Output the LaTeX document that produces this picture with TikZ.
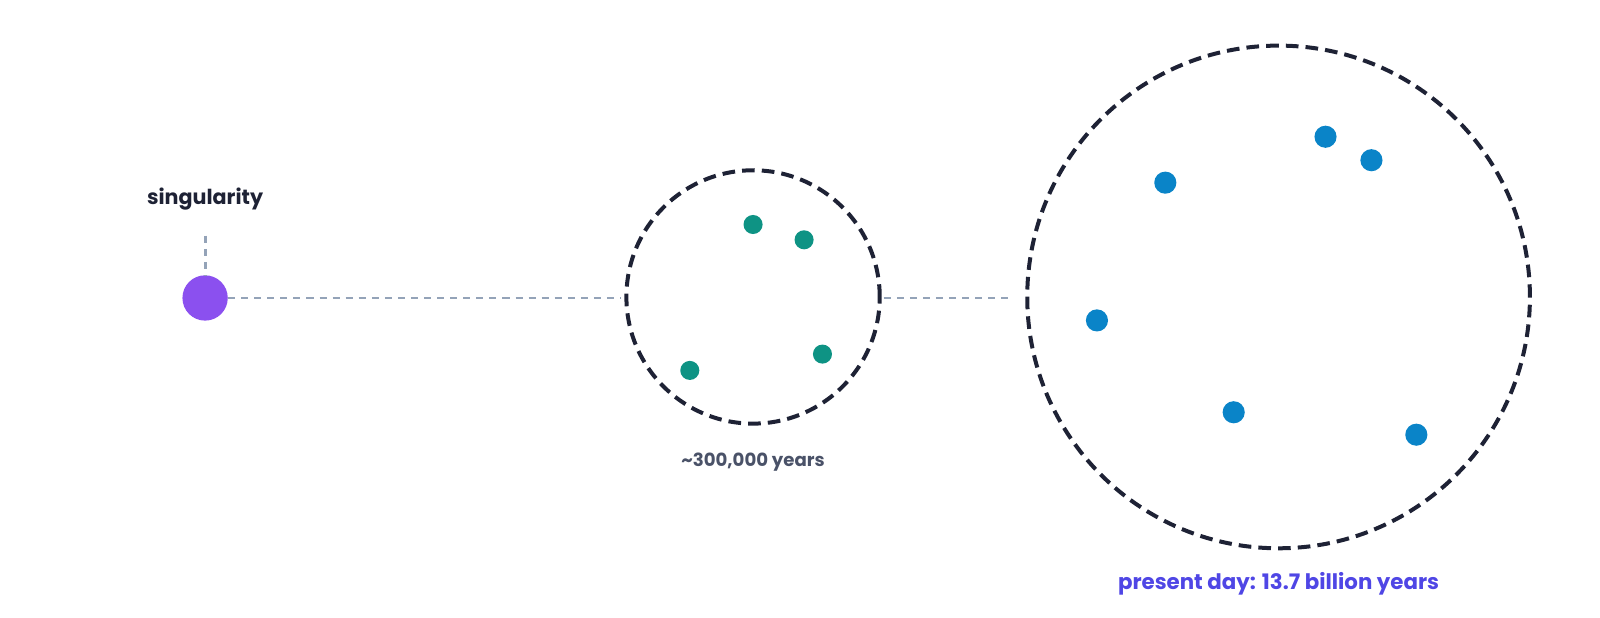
\documentclass[tikz,border=0pt]{standalone}
\usepackage{fontspec}
\setmainfont{Poppins}
\definecolor{navy}{HTML}{1E2235}
\definecolor{lgray}{HTML}{94A3B8}
\definecolor{slate}{HTML}{4A5268}
\definecolor{teal}{HTML}{0E9384}
\definecolor{sky}{HTML}{0A84C8}
\definecolor{indigo}{HTML}{4F46E5}
\definecolor{violet}{HTML}{8B50EF}
\begin{document}
\begin{tikzpicture}[x=0.7653pt,y=-0.7653pt,
  connector/.style={draw=lgray,line width=2.2pt,dash pattern=on 5.3pt off 4.5pt},
  era/.style={circle,draw=navy,line width=3pt,dash pattern=on 9.5pt off 5.3pt,inner sep=0pt},
  tdot/.style={circle,fill=teal,inner sep=0pt,minimum size=14.3pt},
  bdot/.style={circle,fill=sky,inner sep=0pt,minimum size=16.6pt},
  lbl/.style={font=\bfseries\fontsize{15.5}{18}\selectfont}]
\useasboundingbox (0,0) rectangle (1568,605.6);
\node[circle,fill=violet,inner sep=0pt,minimum size=34pt] (sing) at (201,292) {};
\node[lbl,text=navy] (singl) at (201,195) {singularity};
\coordinate (vtop) at (201,231);
\draw[connector] (vtop) -- (sing.north);
\node[era,minimum size=190pt] (c1) at (738,291) {};
\node[era,minimum size=377pt] (c2) at (1253,291) {};
\coordinate (h1) at (609,292);
\coordinate (h2) at (866,292);
\coordinate (h3) at (994,292);
\draw[connector] (sing.east) -- (h1);
\draw[connector] (h2) -- (h3);
\node[tdot] (t1) at (738,220) {};
\node[tdot] (t2) at (788,235) {};
\node[tdot] (t3) at (806,347) {};
\node[tdot] (t4) at (676,363) {};
\node[bdot] (b1) at (1142,179) {};
\node[bdot] (b2) at (1299,134) {};
\node[bdot] (b3) at (1344,157) {};
\node[bdot] (b4) at (1075,314) {};
\node[bdot] (b5) at (1209,404) {};
\node[bdot] (b6) at (1388,426) {};
\node[font=\bfseries\fontsize{13.6}{16}\selectfont,text=slate] (l1) at (738,453) {\textasciitilde300,000 years};
\node[font=\bfseries\fontsize{16}{19}\selectfont,text=indigo] (l2) at (1253,572) {present day: 13.7 billion years};
\end{tikzpicture}
\end{document}
